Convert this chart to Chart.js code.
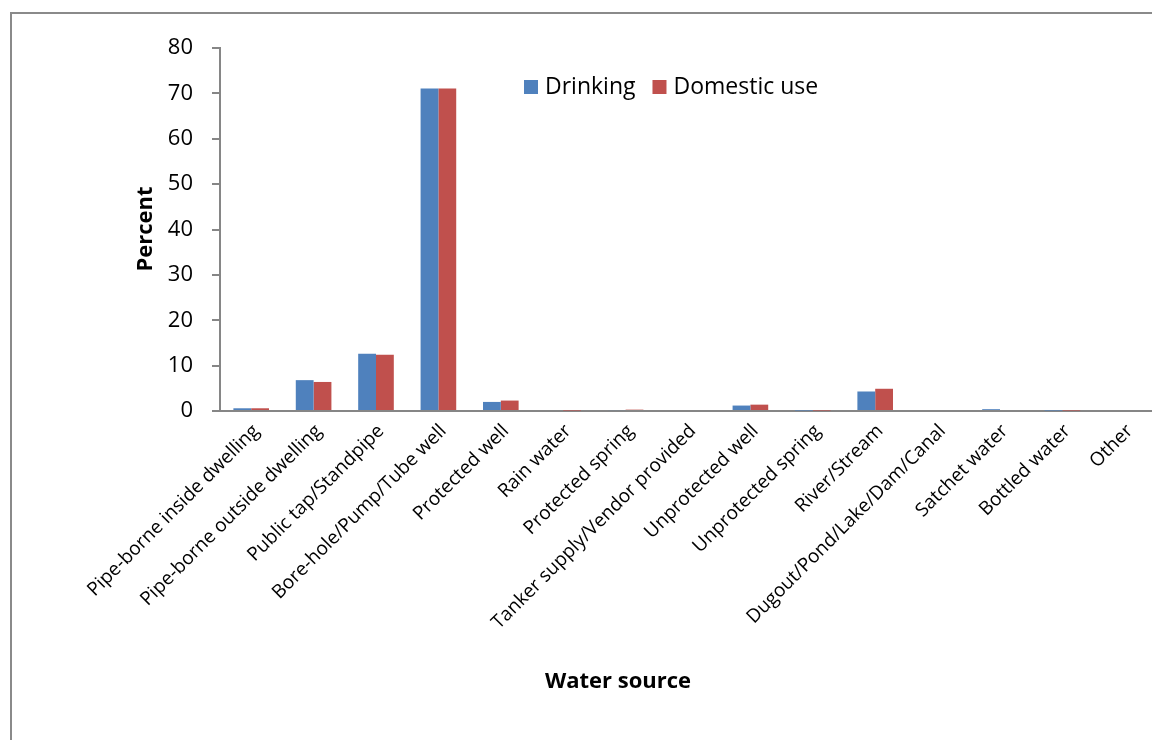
<!DOCTYPE html>
<html>
<head>
<meta charset="utf-8">
<script src="https://cdn.jsdelivr.net/npm/chart.js@4/dist/chart.umd.min.js"></script>
<style>
  html, body { margin: 0; padding: 0; background: #fff; overflow: hidden; width: 1152px; height: 740px; }
  #frame { position: absolute; left: 10px; top: 12px; width: 1200px; height: 800px;
           border-left: 2px solid #8a8a8a; border-top: 2px solid #8a8a8a; box-sizing: border-box; }
  #c { position: absolute; left: 0; top: 0; }
</style>
</head>
<body>
<div id="frame"></div>
<canvas id="c" width="1170" height="740"></canvas>
<script>
// Main source of water, percent of households
const categories = [
  'Pipe-borne inside dwelling',
  'Pipe-borne outside dwelling',
  'Public tap/Standpipe',
  'Bore-hole/Pump/Tube well',
  'Protected well',
  'Rain water',
  'Protected spring',
  'Tanker supply/Vendor provided',
  'Unprotected well',
  'Unprotected spring',
  'River/Stream',
  'Dugout/Pond/Lake/Dam/Canal',
  'Satchet water',
  'Bottled water',
  'Other'
];
const drinking    = [0.6, 6.8, 12.6, 71.1, 2.0, 0.0, 0.2, 0.0, 1.2, 0.1, 4.3, 0.0, 0.4, 0.1, 0.0];
const domesticUse = [0.6, 6.4, 12.4, 71.1, 2.3, 0.1, 0.3, 0.0, 1.4, 0.1, 4.9, 0.0, 0.0, 0.1, 0.0];
const yTicks = [0, 10, 20, 30, 40, 50, 60, 70, 80];
const xTitle = 'Water source';
const yTitle = 'Percent';

const FONT = '"Open Sans", Lato, sans-serif';
const AXIS = '#868686';

// Legend inside the plot area near the top, plus the two axis titles
const annotations = {
  id: 'annotations',
  afterDraw(chart) {
    const ctx = chart.ctx;
    const area = chart.chartArea;
    ctx.save();
    ctx.font = '23px ' + FONT;
    ctx.textBaseline = 'middle';
    let x = area.left + 304;
    const y = area.top + 39;
    chart.data.datasets.forEach(ds => {
      ctx.fillStyle = ds.backgroundColor;
      ctx.fillRect(x, y - 7, 14, 14);
      ctx.fillStyle = '#000';
      ctx.fillText(ds.label, x + 21, y);
      x += 21 + ctx.measureText(ds.label).width + 17;
    });

    ctx.font = 'bold 22px ' + FONT;
    ctx.textAlign = 'center';
    ctx.fillText(xTitle, 618, 682);
    ctx.translate(146, 229);
    ctx.rotate(-Math.PI / 2);
    ctx.fillText(yTitle, 0, 0);
    ctx.restore();
  }
};

new Chart(document.getElementById('c'), {
  type: 'bar',
  data: {
    labels: categories,
    datasets: [
      { label: 'Drinking', data: drinking, backgroundColor: '#4F81BD' },
      { label: 'Domestic use', data: domesticUse, backgroundColor: '#C0504D' }
    ]
  },
  plugins: [annotations],
  options: {
    responsive: false,
    animation: false,
    devicePixelRatio: 1,
    layout: { padding: { left: 134, top: 48, right: 14, bottom: 46 } },
    categoryPercentage: 0.571,
    barPercentage: 1.0,
    plugins: { legend: { display: false }, tooltip: { enabled: false } },
    scales: {
      x: {
        grid: { display: false, drawTicks: false },
        border: { color: AXIS, width: 2 },
        ticks: {
          color: '#000',
          font: { family: FONT, size: 19 },
          minRotation: 45, maxRotation: 45,
          autoSkip: false, padding: 9, labelOffset: 5
        },
        afterFit(scale) { scale.height = 740 - 46 - 411; }
      },
      y: {
        min: 0, max: 80,
        afterBuildTicks(scale) { scale.ticks = yTicks.map(v => ({ value: v })); },
        grid: { drawOnChartArea: false, drawTicks: true, tickLength: 8, color: AXIS, lineWidth: 2 },
        border: { color: AXIS, width: 2 },
        ticks: { color: '#000', font: { family: FONT, size: 22 }, padding: 19 },
        afterFit(scale) { scale.width = 220 - 134; }
      }
    }
  }
});
</script>
</body>
</html>
